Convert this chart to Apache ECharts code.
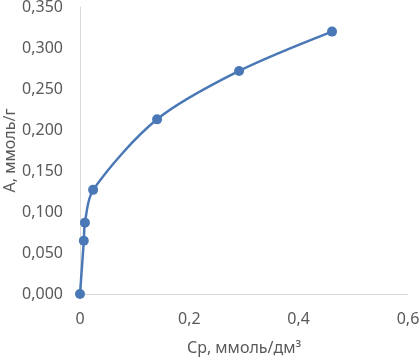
<!DOCTYPE html>
<html>
<head>
<meta charset="utf-8">
<script src="https://cdn.jsdelivr.net/npm/echarts@6/dist/echarts.min.js"></script>
<style>html,body{margin:0;padding:0;background:#fff}#c{width:420px;height:359px}</style>
</head>
<body>
<div id="c"></div>
<script>
const xValues = [0, 0.007, 0.009, 0.024, 0.141, 0.291, 0.461];
const yValues = [0, 0.065, 0.087, 0.127, 0.213, 0.272, 0.320];
const xTitle = 'Ср, ммоль/дм³';
const yTitle = 'А, ммоль/г';

const data = xValues.map((x, i) => [x, yValues[i]]);
const chart = echarts.init(document.getElementById('c'), null, {renderer: 'canvas'});
const font = 'Noto Sans';
const textColor = '#595959';
chart.setOption({
  animation: false,
  grid: {left: 80, right: 12, top: 7, bottom: 65, containLabel: false, outerBoundsMode: 'none'},
  xAxis: {
    type: 'value', min: 0, max: 0.6, interval: 0.2,
    name: xTitle, nameLocation: 'middle', nameGap: 46, nameMoveOverlap: false,
    nameTextStyle: {color: textColor, fontFamily: font, fontSize: 16},
    axisLine: {show: true, lineStyle: {color: '#d9d9d9', width: 1}},
    axisTick: {show: false},
    splitLine: {show: false},
    axisLabel: {color: textColor, fontFamily: font, fontSize: 16, margin: 17,
      formatter: v => v === 0 ? '0' : v.toFixed(1).replace('.', ',')}
  },
  yAxis: {
    type: 'value', min: 0, max: 0.35, interval: 0.05,
    name: yTitle, nameLocation: 'middle', nameGap: 62, nameMoveOverlap: false,
    nameTextStyle: {color: textColor, fontFamily: font, fontSize: 16},
    axisLine: {show: true, lineStyle: {color: '#d9d9d9', width: 1}},
    axisTick: {show: false},
    splitLine: {show: false},
    axisLabel: {color: textColor, fontFamily: font, fontSize: 16, margin: 17,
      formatter: v => v.toFixed(3).replace('.', ',')}
  },
  series: [{
    type: 'line', data: data, smooth: 0.3,
    symbol: 'circle', symbolSize: 10,
    lineStyle: {color: '#4a78b6', width: 2.5},
    itemStyle: {color: '#4a78b6'}
  }]
});
</script>
</body>
</html>
